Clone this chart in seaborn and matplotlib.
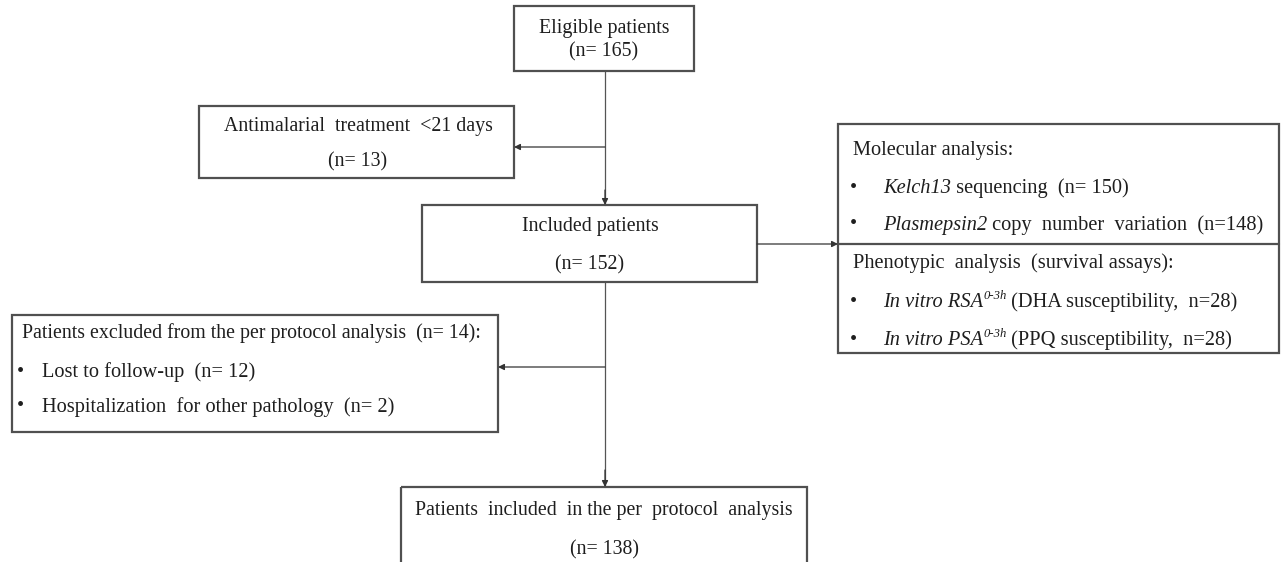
import matplotlib
matplotlib.use("Agg")
import matplotlib.pyplot as plt
import seaborn as sns

sns.set_theme(style="white")
plt.rcParams['font.family'] = ['Liberation Serif', 'DejaVu Serif']

# flowchart content
eligible = ["Eligible patients", "(n= 165)"]
excl_treatment = ["Antimalarial  treatment  <21 days", "(n= 13)"]
included = ["Included patients", "(n= 152)"]
molecular_title = "Molecular analysis:"
# each item: list of (text, style) runs; style "i" italic, "n" normal, "s" superscript
molecular_items = [[("Kelch13", "i"), (" sequencing  (n= 150)", "n")],
                   [("Plasmepsin2", "i"), (" copy  number  variation  (n=148)", "n")]]
pheno_title = "Phenotypic  analysis  (survival assays):"
pheno_items = [[("In vitro RSA", "i"), ("0-3h", "s"), (" (DHA susceptibility,  n=28)", "n")],
               [("In vitro PSA", "i"), ("0-3h", "s"), (" (PPQ susceptibility,  n=28)", "n")]]
excl_pp_title = "Patients excluded from the per protocol analysis  (n= 14):"
excl_pp_items = ["Lost to follow-up  (n= 12)", "Hospitalization  for other pathology  (n= 2)"]
final = ["Patients  included  in the per  protocol  analysis", "(n= 138)"]

fig = plt.figure(figsize=(12.82, 5.62), dpi=100)
ax = fig.add_axes([0, 0, 1, 1])
ax.set_xlim(0, 1282)
ax.set_ylim(562, 0)
ax.axis("off")
renderer = fig.canvas.get_renderer()

edge = "#505050"
line = "#555555"
tcol = "#1e1e1e"
fs = 14.3
fs_list = 14.7


def box(x0, y0, x1, y1):
    ax.add_patch(plt.Rectangle((x0, y0), x1 - x0, y1 - y0, fill=False,
                               edgecolor=edge, linewidth=1.6, zorder=3))


def arrow(x0, y0, x1, y1):
    ax.annotate("", xy=(x1, y1), xytext=(x0, y0),
                arrowprops=dict(arrowstyle="-|>", color="#333333", lw=0.9,
                                mutation_scale=9, shrinkA=0, shrinkB=0))


def ctext(x, y, s):
    ax.text(x, y, s, ha="center", va="center", fontsize=fs, color=tcol)


def ltext(x, y, s, size=fs_list):
    ax.text(x, y, s, ha="left", va="center", fontsize=size, color=tcol)


def runs(x, y, parts):
    # draw runs of text one after another, measuring each width in pixels
    for s, st in parts:
        kw = dict(ha="left", va="baseline", color=tcol, fontsize=fs_list)
        yy = y + 5
        if st == "i":
            kw["style"] = "italic"
        elif st == "s":
            kw["style"] = "italic"
            kw["fontsize"] = fs_list * 0.62
            yy = y - 3
        t = ax.text(x, yy, s, **kw)
        bb = t.get_window_extent(renderer=renderer)
        x += bb.width


# boxes
box(514, 6, 694, 71)
ctext(604, 28, eligible[0])
ctext(604, 52, eligible[1])

box(199, 106, 514, 178)
ctext(358, 127, excl_treatment[0])
ctext(358, 162, excl_treatment[1])

box(422, 205, 757, 282)
ctext(590, 227, included[0])
ctext(590, 265, included[1])

box(838, 124, 1279, 353)
ax.plot([838, 1279], [244, 244], color=edge, lw=1.6, zorder=3)
ltext(853, 151, molecular_title)
for yy, parts in zip([188, 225], molecular_items):
    ltext(850, yy, "•")
    runs(883, yy, parts)
ltext(853, 263, pheno_title)
for yy, parts in zip([302, 340], pheno_items):
    ltext(850, yy, "•")
    runs(883, yy, parts)

box(12, 315, 498, 432)
ltext(22, 333, excl_pp_title, size=fs)
for yy, s in zip([372, 407], excl_pp_items):
    ltext(17, yy, "•")
    ltext(42, yy, s)

box(401, 487, 807, 575)
ctext(604, 510, final[0])
ctext(604, 550, final[1])

# connectors
ax.plot([605, 605], [71, 205], color=line, lw=0.9)
arrow(605, 190, 605, 205)
arrow(605, 147, 514, 147)
arrow(757, 244, 838, 244)
ax.plot([605, 605], [282, 487], color=line, lw=0.9)
arrow(605, 470, 605, 487)
arrow(605, 367, 498, 367)

fig.savefig("out.png", dpi=100)
